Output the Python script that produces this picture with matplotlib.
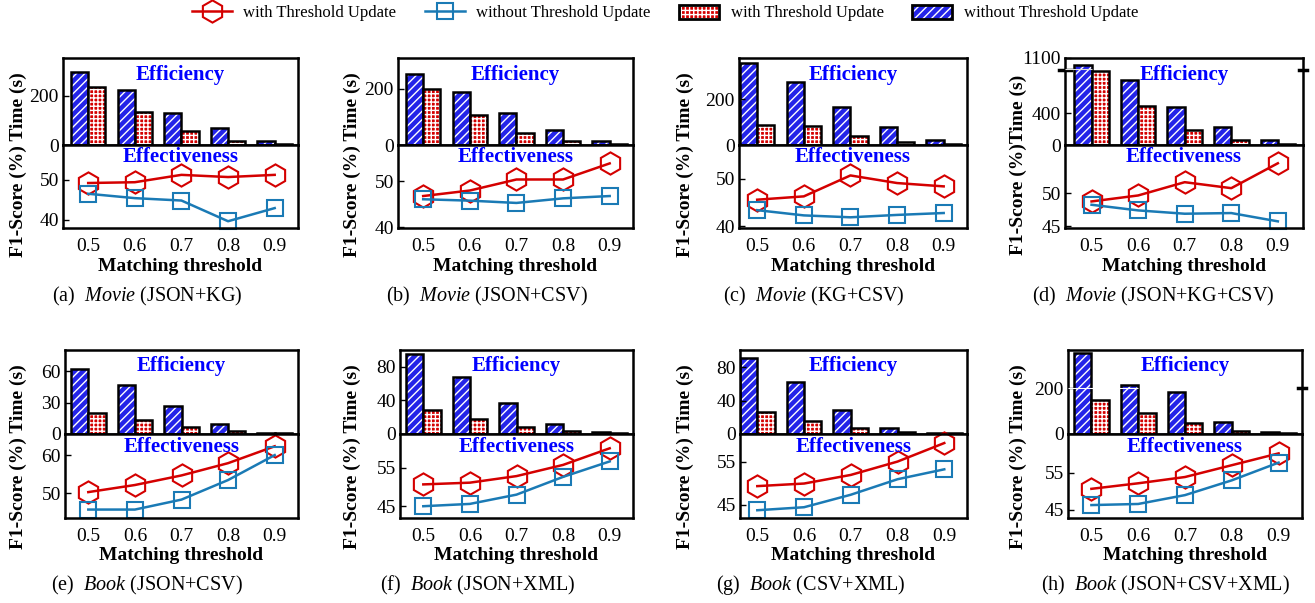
import matplotlib
matplotlib.use('Agg')
import matplotlib.pyplot as plt
from matplotlib.patches import Patch
from matplotlib.lines import Line2D
from matplotlib.legend_handler import HandlerTuple

plt.rcParams['font.family'] = ['Liberation Serif', 'DejaVu Serif']
plt.rcParams['mathtext.fontset'] = 'custom'
plt.rcParams['mathtext.rm'] = 'Liberation Serif'
plt.rcParams['mathtext.it'] = 'Liberation Serif:italic'
plt.rcParams['hatch.linewidth'] = 1.0

# data
thresholds = [0.5, 0.6, 0.7, 0.8, 0.9]
panel_tags = ['(a)', '(b)', '(c)', '(d)', '(e)', '(f)', '(g)', '(h)']
datasets = ['Movie', 'Movie', 'Movie', 'Movie', 'Book', 'Book', 'Book', 'Book']
sources = ['JSON+KG', 'JSON+CSV', 'KG+CSV', 'JSON+KG+CSV',
           'JSON+CSV', 'JSON+XML', 'CSV+XML', 'JSON+CSV+XML']

# running time (s)
time_without = [
    [299, 223, 131, 68, 17],
    [251, 186, 114, 54, 14],
    [359, 276, 167, 79, 21],
    [1010, 817, 477, 230, 60],
    [61.6, 47, 26.8, 9.2, 1.3],
    [95.8, 68, 36.4, 11.5, 2],
    [90.8, 62.8, 28.8, 6.8, 0.8],
    [353, 215, 185, 54, 10],
]
time_with = [
    [237, 134, 58, 17, 3],
    [200, 107, 44, 14, 2],
    [86, 83, 41, 15, 5],
    [936, 498, 191, 60, 17],
    [19.6, 13.3, 6.9, 2.5, 0.6],
    [28.5, 17.8, 7.9, 3.2, 1.2],
    [26.8, 16, 7.6, 2.8, 0.8],
    [149, 93, 47, 15, 3],
]

# F1-score (%)
f1_with = [
    [49.2, 49.4, 51.25, 50.7, 51.25],
    [46.8, 48.0, 50.4, 50.4, 53.9],
    [45.6, 46.3, 50.7, 49.1, 48.4],
    [48.75, 49.65, 51.65, 50.75, 54.5],
    [50.35, 52.2, 54.7, 57.9, 62.3],
    [50.65, 51.1, 52.8, 55.7, 60.0],
    [49.3, 49.9, 51.9, 55.0, 59.3],
    [50.6, 52.1, 53.8, 57.0, 60.2],
]
f1_without = [
    [46.5, 45.4, 44.8, 39.6, 42.9],
    [46.1, 45.8, 45.3, 46.3, 46.8],
    [43.4, 42.3, 41.9, 42.4, 42.8],
    [48.25, 47.4, 46.9, 47.0, 45.75],
    [45.8, 45.8, 48.4, 53.5, 60.0],
    [45.0, 45.6, 48.0, 52.6, 56.6],
    [43.7, 44.4, 47.3, 50.9, 53.2],
    [46.2, 46.5, 48.9, 52.9, 57.7],
]

time_ticks = [[0, 200], [0, 200], [0, 200], [0, 400, 1100],
              [0, 30, 60], [0, 40, 80], [0, 40, 80], [0, 200]]
f1_ticks = [[40, 50], [40, 50], [40, 50], [45, 50],
            [50, 60], [45, 55], [45, 55], [45, 55]]

# layout (pixels of the 1315x603 canvas)
W, H = 1315, 603
time_ylim = [355, 308, 382, 1100, 80, 100, 101, 368]
f1_ylim = [(37.9, 58.75), (39.85, 57.9), (39.65, 57.1), (44.75, 57.25),
           (43.6, 65.5), (41.95, 63.7), (41.9, 61.4), (42.7, 65.45)]
x_left = [0.446, 0.446, 0.461, 0.443, 0.45, 0.45, 0.463, 0.45]
x_right = [0.95, 0.95, 0.95, 0.954, 0.95, 0.95, 0.9486, 0.95]
axes_x = [(63, 298), (398, 633), (739, 967), (1065, 1303),
          (65, 298), (400, 633), (740, 967), (1068, 1302)]
rows_y = [(58, 145, 228), (350, 434, 518)]
ylabel_x = [18, 352, 685, 1018, 18, 352, 685, 1018]
caption_x = [147, 487, 814, 1153, 147, 478, 811, 1166]
caption_y = [296, 585]

RED = '#d40000'
BLUE_LINE = '#1a7ab5'
BLUE_BAR = '#2424e8'
bw = 0.037

fig = plt.figure(figsize=(13.15, 6.03), dpi=100)

for i in range(8):
    row = i // 4
    l, r = axes_x[i]
    top, mid, bot = rows_y[row]
    axb = fig.add_axes([l / W, 1 - mid / H, (r - l) / W, (mid - top) / H])
    axl = fig.add_axes([l / W, 1 - bot / H, (r - l) / W, (bot - mid) / H])

    # bars: blue hatched on the left of the tick, red grid on the right
    axb.bar(thresholds, time_without[i], width=-bw, align='edge',
            color=BLUE_BAR, edgecolor='white', hatch='////', linewidth=0)
    axb.bar(thresholds, time_without[i], width=-bw, align='edge',
            fill=False, edgecolor='black', linewidth=1.8)
    axb.bar(thresholds, time_with[i], width=bw, align='edge',
            color=RED, edgecolor='white', hatch='++++', linewidth=0)
    axb.bar(thresholds, time_with[i], width=bw, align='edge',
            fill=False, edgecolor='black', linewidth=1.8)
    axb.set_xlim(x_left[i], x_right[i])
    axb.set_ylim(0, time_ylim[i])
    axb.set_yticks(time_ticks[i])
    axb.set_xticks([])
    axb.text(0.5, 0.81, 'Efficiency', transform=axb.transAxes, ha='center',
             va='center', color='blue', fontsize=15, fontweight='bold')

    # lines
    axl.plot(thresholds, f1_with[i], color=RED, lw=1.8, marker='h', ms=16,
             mfc='none', mew=1.5, clip_on=False)
    axl.plot(thresholds, f1_without[i], color=BLUE_LINE, lw=1.8, marker='s',
             ms=12, mfc='none', mew=1.5, clip_on=False)
    axl.set_xlim(x_left[i], x_right[i])
    axl.set_ylim(*f1_ylim[i])
    axl.set_yticks(f1_ticks[i])
    axl.set_xticks(thresholds)
    axl.set_xticklabels([str(t) for t in thresholds])
    axl.text(0.5, 0.85, 'Effectiveness', transform=axl.transAxes, ha='center',
             va='center', color='blue', fontsize=15, fontweight='bold')
    axl.set_xlabel('Matching threshold', fontsize=14, fontweight='bold',
                   labelpad=2)

    for ax in (axb, axl):
        for s in ax.spines.values():
            s.set_linewidth(1.8)
        ax.tick_params(axis='y', direction='in', length=4, width=1,
                       labelsize=14, pad=3)
        ax.tick_params(axis='x', length=0, labelsize=14, pad=7)

    fig.text(ylabel_x[i] / W, 1 - (top + 107) / H, 'F1-Score (%) Time (s)'
             if i != 3 else 'F1-Score (%)Time (s)', rotation=90,
             ha='center', va='center', fontsize=14, fontweight='bold')
    fig.text(caption_x[i] / W, 1 - caption_y[row] / H,
             panel_tags[i] + r'  $\mathit{' + datasets[i] + '}$ (' + sources[i] + ')',
             ha='center', va='center', fontsize=14.5)

    # axis-break marks
    if i == 3:
        yb = 945 / time_ylim[i]
        for xs in ([-0.025, 0.025], [0.985, 1.015]):
            axb.plot(xs, [yb, yb], transform=axb.transAxes, color='black',
                     lw=2.5, clip_on=False)
        axb.hlines(955, x_left[i], 0.5, colors='#dddddd', lw=0.8, zorder=3)
    if i == 7:
        yb = 200 / time_ylim[i]
        axb.plot([0.985, 1.015], [yb, yb], transform=axb.transAxes,
                 color='black', lw=2.5, clip_on=False)
        axb.hlines(200, x_left[i], 0.6, colors='white', lw=0.8, zorder=3)

# legend
h_red = Line2D([], [], color=RED, lw=1.8, marker='h', ms=16, mfc='none', mew=1.5)
h_blue = Line2D([], [], color=BLUE_LINE, lw=1.8, marker='s', ms=12, mfc='none', mew=1.5)
p_red = (Patch(facecolor=RED, edgecolor='white', hatch='++++', linewidth=0),
         Patch(fill=False, edgecolor='black', linewidth=2))
p_blue = (Patch(facecolor=BLUE_BAR, edgecolor='white', hatch='////', linewidth=0),
          Patch(fill=False, edgecolor='black', linewidth=2))
fig.legend([h_red, h_blue, p_red, p_blue],
           ['with Threshold Update', 'without Threshold Update',
            'with Threshold Update', 'without Threshold Update'],
           loc='center', bbox_to_anchor=(665 / W, 1 - 13 / H), ncol=4,
           frameon=False, fontsize=12, handlelength=2.4, handleheight=0.9,
           columnspacing=1.7, handletextpad=0.7,
           handler_map={tuple: HandlerTuple(ndivide=1)})

fig.savefig('out.png', dpi=100)
